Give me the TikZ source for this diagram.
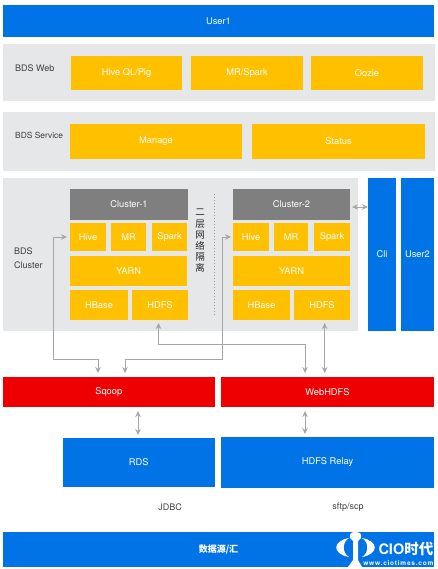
\documentclass[tikz,border=0pt]{standalone}
\usepackage{fontspec}
\setmainfont{TeX Gyre Heros}
\newfontfamily\cjk{Noto Sans CJK SC}
\usepackage{tikz}
\usetikzlibrary{arrows.meta}
\definecolor{userblue}{RGB}{0,115,230}
\definecolor{amber}{RGB}{255,192,0}
\definecolor{alert}{RGB}{238,0,0}
\definecolor{panel}{RGB}{230,231,232}
\definecolor{header}{RGB}{127,127,127}
\definecolor{link}{RGB}{166,166,166}
\tikzset{
    block/.style={anchor=north west, inner sep=0pt, outer sep=0pt, text=white, font=\fontsize{9.3}{11}\selectfont},
    bluebox/.style={block, fill=userblue},
    ambox/.style={block, fill=amber},
    redbox/.style={block, fill=alert},
    headbox/.style={block, fill=header},
    panelbox/.style={block, fill=panel},
    caption/.style={text=black!75, font=\fontsize{9}{14}\selectfont, align=left, inner sep=0pt},
    linkline/.style={{Stealth[length=6pt,width=5.5pt]}-{Stealth[length=6pt,width=5.5pt]}, line width=1pt, draw=link},
    stamp/.style={text=white, inner sep=0pt, anchor=east}
}

\begin{document}
\begin{tikzpicture}[x=1pt, y=-1pt]
    \useasboundingbox (0,0) rectangle (437,569);

    \node[bluebox, minimum width=431pt, minimum height=32pt] (user1) at (3,5) {User1};

    % web row
    \node[panelbox, minimum width=432pt, minimum height=57pt] (webpanel) at (3,44) {};
    \node[caption, anchor=west] (weblabel) at (15,68) {BDS Web};
    \node[ambox, minimum width=111pt, minimum height=34pt] (hiveql) at (71,56) {Hive QL/Pig};
    \node[ambox, minimum width=112pt, minimum height=34pt] (mrspark) at (191,56) {MR/Spark};
    \node[ambox, minimum width=112pt, minimum height=34pt] (oozie) at (311,56) {Oozie};

    % service row
    \node[panelbox, minimum width=432pt, minimum height=59pt] (servicepanel) at (3,112) {};
    \node[caption, anchor=west, font=\fontsize{8.4}{14}\selectfont] (servicelabel) at (15,135) {BDS Service};
    \node[ambox, minimum width=172pt, minimum height=35pt] (manage) at (70,124) {Manage};
    \node[ambox, minimum width=173pt, minimum height=35pt] (status) at (252,124) {Status};

    % cluster row
    \node[panelbox, minimum width=355pt, minimum height=153pt] (clusterpanel) at (3,178) {};
    \node[caption, anchor=west] (clusterlabel) at (14,258) {BDS\\Cluster};

    \node[headbox, minimum width=118pt, minimum height=31pt] (cluster1) at (70,189) {Cluster-1};
    \node[ambox, minimum width=36pt, minimum height=28pt] (hive1) at (70,223) {Hive};
    \node[ambox, minimum width=35pt, minimum height=28pt] (mr1) at (111,223) {MR};
    \node[ambox, minimum width=35pt, minimum height=28pt] (spark1) at (152,223) {Spark};
    \node[ambox, minimum width=117pt, minimum height=30pt] (yarn1) at (70,256) {YARN};
    \node[ambox, minimum width=58pt, minimum height=30pt] (hbase1) at (70,290) {HBase};
    \node[ambox, minimum width=56pt, minimum height=30pt] (hdfs1) at (132,290) {HDFS};

    \node[headbox, minimum width=117pt, minimum height=31pt] (cluster2) at (233,189) {Cluster-2};
    \node[ambox, minimum width=36pt, minimum height=28pt] (hive2) at (233,223) {Hive};
    \node[ambox, minimum width=34pt, minimum height=28pt] (mr2) at (274,223) {MR};
    \node[ambox, minimum width=36pt, minimum height=28pt] (spark2) at (314,223) {Spark};
    \node[ambox, minimum width=117pt, minimum height=30pt] (yarn2) at (233,256) {YARN};
    \node[ambox, minimum width=57pt, minimum height=30pt] (hbase2) at (233,290) {HBase};
    \node[ambox, minimum width=56pt, minimum height=30pt] (hdfs2) at (294,290) {HDFS};

    % isolation between the clusters
    \node[caption, align=center, text=black!85, font=\cjk\fontsize{9.5}{11.2}\selectfont] (isolation) at (200,241) {二\\层\\网\\络\\隔\\离};
    \coordinate (sepTop) at (214,194);
    \coordinate (sepBottom) at (214,316);
    \draw[dotted, line width=1pt, draw=black!40] (sepTop) -- (sepBottom);

    \node[bluebox, minimum width=28pt, minimum height=153pt] (cli) at (368,178) {Cli};
    \node[bluebox, minimum width=33pt, minimum height=153pt] (user2) at (401,178) {User2};

    \node[redbox, minimum width=211.5pt, minimum height=30pt] (sqoop) at (3,377) {Sqoop};
    \node[redbox, minimum width=213pt, minimum height=30pt] (webhdfs) at (221,377) {WebHDFS};
    \node[bluebox, minimum width=151.5pt, minimum height=49pt] (rds) at (63,438) {RDS};
    \node[bluebox, minimum width=213pt, minimum height=51pt] (relay) at (221,437) {HDFS Relay};

    \node[caption, anchor=center] (jdbc) at (170,507) {JDBC};
    \node[caption, anchor=center] (sftp) at (348,507) {sftp/scp};

    \node[bluebox, minimum width=431pt, minimum height=35pt, font=\cjk\bfseries\fontsize{9}{11}\selectfont] (source) at (3,532) {数据源/汇};

    % logo on the bottom bar
    \fill[white] (350,538) .. controls (349,534) and (351,532) .. (355,532) .. controls (360,532) and (362,534) .. (361,538)
        -- (358,541) -- (358,560) -- (362,567) -- (348,567) -- (353,560) -- (353,541) -- cycle;
    \fill[white] (349,538) .. controls (332,541) and (332,554) .. (349,557) .. controls (342,553) and (342,542) .. (349,538) -- cycle;
    \fill[white] (362,538) .. controls (379,541) and (379,554) .. (362,557) .. controls (369,553) and (369,542) .. (362,538) -- cycle;
    \node[stamp, font=\bfseries\fontsize{14.5}{16}\selectfont] (logotext) at (433.5,549) {CIO{\cjk 时代}};
    \node[stamp, font=\bfseries\fontsize{6.5}{8}\selectfont\addfontfeatures{LetterSpace=12}] (logourl) at (433.5,563) {www.ciotimes.com};

    % connectors
    \coordinate (sqoopA) at (98,373);
    \coordinate (sqoopB) at (125,373);
    \coordinate (hiveA) at (67,237);
    \coordinate (hiveB) at (231,237);
    \coordinate (webA) at (305,373);
    \coordinate (hdfsA) at (158.5,323);
    \coordinate (cornerA) at (53.5,359);
    \coordinate (cornerB) at (222,359);
    \coordinate (cornerC) at (305,344);
    \draw[linkline] (sqoopA) |- (cornerA) |- (hiveA);
    \draw[linkline] (sqoopB) |- (cornerB) |- (hiveB);
    \draw[linkline] (hdfsA) |- (cornerC) -- (webA);
    \coordinate (hdfsB) at (324.7,323);
    \coordinate (webB) at (324.7,373);
    \draw[linkline] (hdfsB) -- (webB);
    \coordinate (cliA) at (352,207);
    \coordinate (cliB) at (368,207);
    \draw[linkline] (cliA) -- (cliB);
    \coordinate (sqoopC) at (138,411);
    \coordinate (rdsA) at (138,435);
    \draw[linkline] (sqoopC) -- (rdsA);
    \coordinate (webC) at (305,411);
    \coordinate (relayA) at (305,434);
    \draw[linkline] (webC) -- (relayA);
\end{tikzpicture}
\end{document}
